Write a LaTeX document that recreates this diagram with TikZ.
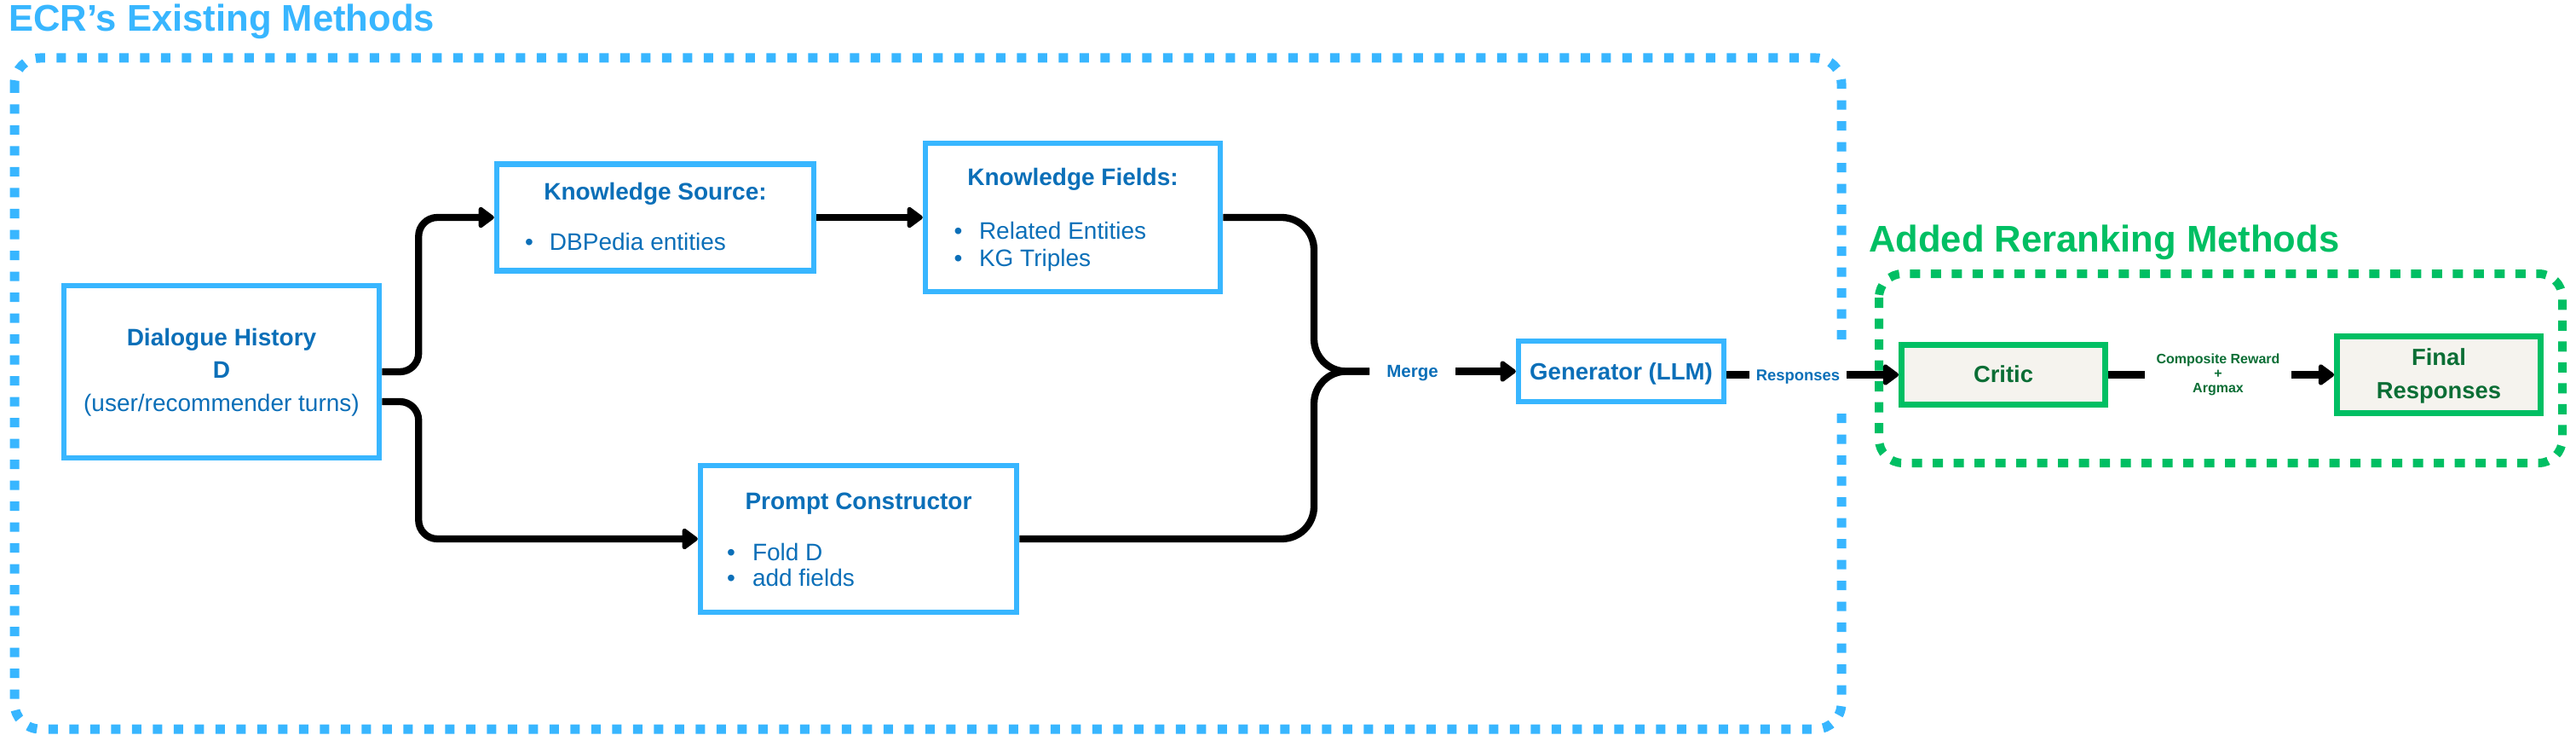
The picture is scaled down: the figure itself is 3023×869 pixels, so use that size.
\documentclass[tikz,border=0pt]{standalone}
\usepackage{fontspec}
\setmainfont{Liberation Sans}
\usetikzlibrary{arrows.meta}
\definecolor{boxblue}{HTML}{38B6FF}
\definecolor{txtblue}{HTML}{0B6FB8}
\definecolor{grn}{HTML}{00BF63}
\definecolor{dkgrn}{HTML}{0B6E35}
\definecolor{cream}{HTML}{F5F3EE}
\newcommand\fsz[1]{\fontsize{#1pt}{#1pt}\selectfont}
\begin{document}
\begin{tikzpicture}[x=1pt,y=-1pt,
  bbox/.style={draw=boxblue,line width=6.5pt,fill=white,inner sep=0pt},
  gbox/.style={draw=grn,line width=7pt,fill=cream,inner sep=0pt},
  btitle/.style={text=txtblue,font=\fsz{28}\bfseries,inner sep=0pt,anchor=base},
  bitem/.style={text=txtblue,font=\fsz{28},inner sep=0pt,anchor=base west},
  gtext/.style={text=dkgrn,font=\fsz{27.4}\bfseries,inner sep=0pt,anchor=base},
  conn/.style={line width=8.3pt,draw=black,line join=round},
  arr/.style={-{Triangle[length=20pt,width=28pt,round]}},
  grpline/.style={line width=11pt,dash pattern=on 11pt off 13.5pt,rounded corners=30pt},
]
\useasboundingbox (0,0) rectangle (3023,869);
% group frames
\draw[grpline,draw=boxblue] (17,68) rectangle (2161,855);
\draw[grpline,draw=grn,line width=10pt,dash pattern=on 12pt off 12.5pt,rounded corners=28pt] (2205,321) rectangle (3007,543);
\fill[white] (2150,410) rectangle (2173,482);
% titles
\node[anchor=base west,inner sep=0pt,text=boxblue,font=\fsz{43.6}\bfseries] (t1) at (10,37) {ECR’s Existing Methods};
\node[anchor=base west,inner sep=0pt,text=grn,font=\fsz{43.6}\bfseries] (t2) at (2193,295) {Added Reranking Methods};
% boxes
\node[bbox,minimum width=370pt,minimum height=202pt] (dh) at (260,436) {};
\node[bbox,minimum width=372pt,minimum height=125pt] (ks) at (769,255) {};
\node[bbox,minimum width=346pt,minimum height=174pt] (kf) at (1259,255) {};
\node[bbox,minimum width=371pt,minimum height=172pt] (pc) at (1007.5,632) {};
\node[bbox,minimum width=241pt,minimum height=71pt] (gen) at (1902.5,435.5) {};
\node[gbox,minimum width=239pt,minimum height=70pt] (cr) at (2351,439.5) {};
\node[gbox,minimum width=239pt,minimum height=90pt] (fr) at (2862,439.5) {};
% box texts
\node[btitle] (dh1) at (260,405) {Dialogue History};
\node[btitle] (dh2) at (260,443) {D};
\node[btitle,font=\fsz{28}] (dh3) at (260,482) {(user/recommender turns)};
\node[btitle] (ks1) at (769,235) {Knowledge Source:};
\node[bitem] (ks2) at (616,293) {•\hspace{19pt}DBPedia entities};
\node[btitle] (kf1) at (1259,218) {Knowledge Fields:};
\node[bitem] (kf2) at (1119.5,280) {•\hspace{19.5pt}Related Entities};
\node[bitem] (kf3) at (1119.5,312) {•\hspace{19.5pt}KG Triples};
\node[btitle] (pc1) at (1007.5,597) {Prompt Constructor};
\node[bitem] (pc2) at (853,657) {•\hspace{20pt}Fold D};
\node[bitem] (pc3) at (853,687) {•\hspace{20pt}add fields};
\node[btitle,font=\fsz{27.6}\bfseries] (gen1) at (1902.5,445) {Generator (LLM)};
\node[gtext] (cr1) at (2351,448) {Critic};
\node[gtext] (fr1) at (2862,428) {Final};
\node[gtext] (fr2) at (2862,467) {Responses};
% edge labels
\node[text=txtblue,font=\fsz{20.5}\bfseries,inner xsep=20pt,inner ysep=0pt,text height=14.7pt,text depth=0pt] (mg) at (1657.5,435.5) {Merge};
\node[text=txtblue,font=\fsz{18.4}\bfseries,inner xsep=8pt,inner ysep=0pt,text height=13.2pt,text depth=0pt] (rs) at (2110,439.5) {Responses};
\node[text=dkgrn,font=\fontsize{16pt}{17pt}\selectfont\bfseries,align=center,inner xsep=13.5pt,inner ysep=0pt] (cp) at (2603,439.5) {Composite Reward\\+\\Argmax};
\coordinate (bj) at (1542,435.5);
% connectors
\draw[conn,arr,rounded corners=22pt] (dh.east) -- ++(43,0) |- (ks.west);
\draw[conn,arr,rounded corners=22pt] ([yshift=-35pt]dh.east) -- ++(43,0) |- (pc.west);
\draw[conn,arr] (ks.east) -- (kf.west);
\draw[conn,rounded corners=38pt] (kf.east) -| (bj) -- (mg.west);
\draw[conn,rounded corners=38pt] (pc.east) -| (bj) -- (mg.west);
\draw[conn,arr] (mg.east) -- (gen.west);
\draw[conn] (rs.west -| gen.east) -- (rs.west);
\draw[conn,arr] (rs.east) -- (cr.west);
\draw[conn] (cr.east) -- (cp.west);
\draw[conn,arr] (cp.east) -- (fr.west);
\end{tikzpicture}
\end{document}
